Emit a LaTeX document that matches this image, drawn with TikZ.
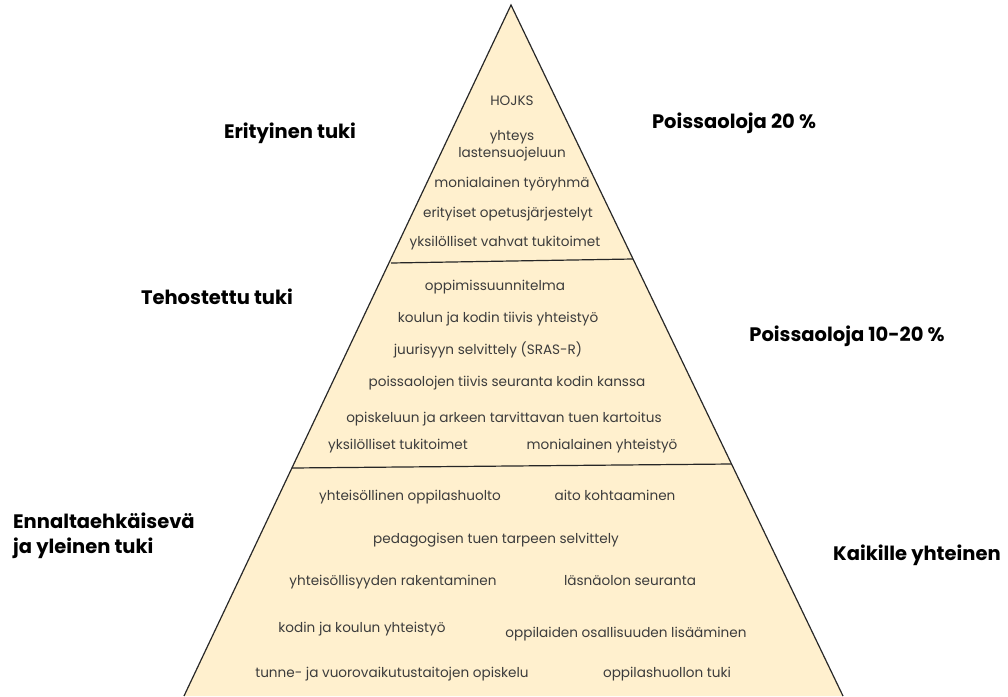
\documentclass[tikz,border=0pt]{standalone}
\usepackage{fontspec}
\setmainfont{Poppins}
\definecolor{pyrfill}{RGB}{255,240,206}
\definecolor{itemtext}{RGB}{60,60,60}
\definecolor{edgecol}{RGB}{40,40,40}
\begin{document}
\begin{tikzpicture}[x=1pt,y=-1pt,
  item/.style={anchor=mid,inner sep=0pt,yshift=-2pt,text=itemtext,font=\fontsize{13.6}{17}\selectfont},
  label/.style={anchor=mid,inner sep=0pt,yshift=-4pt,text=black,font=\fontsize{19.5}{23}\selectfont\bfseries},
  edge/.style={draw=edgecol,line width=1.2pt},
  divider/.style={draw=black!85,line width=1.2pt}]
\useasboundingbox (0,0) rectangle (1008,696);
% pyramid
\coordinate (apex) at (511,5);
\coordinate (bl) at (184,696);
\coordinate (br) at (843,696);
\fill[pyrfill] (apex) -- (bl) -- (br) -- cycle;
\draw[edge] (bl) -- (apex) -- (br);
\coordinate (d1l) at (391,263);
\coordinate (d1r) at (633,259);
\coordinate (d2l) at (292,468);
\coordinate (d2r) at (731,464);
\draw[divider] (d1l) -- (d1r);
\draw[divider] (d2l) -- (d2r);
% top level
\node[item] (t1) at (512,101) {HOJKS};
\node[item,anchor=center,align=center] (t2) at (512,144) {yhteys\\lastensuojeluun};
\node[item] (t3) at (512,183) {monialainen työryhmä};
\node[item] (t4) at (508,213) {erityiset opetusjärjestelyt};
\node[item] (t5) at (505,242) {yksilölliset vahvat tukitoimet};
% middle level
\node[item] (m1) at (495,286) {oppimissuunnitelma};
\node[item] (m2) at (498,318) {koulun ja kodin tiivis yhteistyö};
\node[item] (m3) at (488,350) {juurisyyn selvittely (SRAS-R)};
\node[item] (m4) at (507,382) {poissaolojen tiivis seuranta kodin kanssa};
\node[item] (m5) at (504,418) {opiskeluun ja arkeen tarvittavan tuen kartoitus};
\node[item] (m6) at (398,445) {yksilölliset tukitoimet};
\node[item] (m7) at (602,445) {monialainen yhteistyö};
% bottom level
\node[item] (b1) at (410,496) {yhteisöllinen oppilashuolto};
\node[item] (b2) at (615,496) {aito kohtaaminen};
\node[item] (b3) at (496,539) {pedagogisen tuen tarpeen selvittely};
\node[item] (b4) at (393,581) {yhteisöllisyyden rakentaminen};
\node[item] (b5) at (630,581) {läsnäolon seuranta};
\node[item] (b6) at (362,628) {kodin ja koulun yhteistyö};
\node[item] (b7) at (626,633) {oppilaiden osallisuuden lisääminen};
\node[item] (b8) at (392,673) {tunne- ja vuorovaikutustaitojen opiskelu};
\node[item] (b9) at (667,673) {oppilashuollon tuki};
% side labels
\node[label] (l1) at (290,132) {Erityinen tuki};
\node[label] (l2) at (217,298) {Tehostettu tuki};
\node[label,anchor=west] (l3) at (13,517) {Ennaltaehkäisevä};
\node[label,anchor=west] (l3b) at (13,544) {ja yleinen tuki};
\node[label] (r1) at (734,122) {Poissaoloja 20 \%};
\node[label] (r2) at (847,335) {Poissaoloja 10-20 \%};
\node[label,anchor=west] (r3) at (833,551) {Kaikille yhteinen};
\end{tikzpicture}
\end{document}
